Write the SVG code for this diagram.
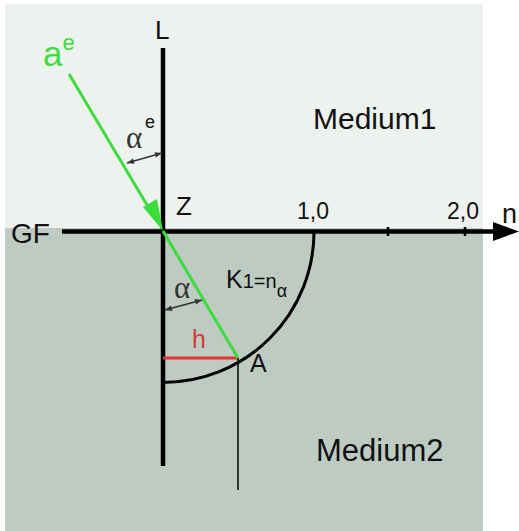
<svg xmlns="http://www.w3.org/2000/svg" width="519" height="531" viewBox="0 0 519 531">
<defs>
<style>
.t{font-family:"Liberation Sans",Arial,sans-serif;fill:#111}
.g{font-family:"Liberation Serif","Times New Roman",serif;fill:#333}
.ax{stroke:#000;fill:none}
</style>
<marker id="ka" viewBox="0 0 10 10" refX="10" refY="5" markerWidth="9" markerHeight="7" markerUnits="userSpaceOnUse" orient="auto-start-reverse">
<path d="M0,1 L10,5 L0,9 z" fill="#333"/>
</marker>
</defs>
<g id="background">
<rect x="5" y="4" width="478" height="224" fill="#eef2ee"/>
<rect x="5" y="228" width="478" height="303" fill="#bdcbc3"/>
</g>
<g id="connectors">
<line class="ax" x1="163" y1="48" x2="163" y2="466" stroke-width="4.5"/>
<line class="ax" x1="62" y1="231.5" x2="495" y2="231.5" stroke-width="4.5"/>
<path d="M493,222 L519,231.5 L493,241 z" fill="#000"/>
<line class="ax" x1="388" y1="227" x2="388" y2="236" stroke-width="2.5"/>
<line class="ax" x1="465" y1="227" x2="465" y2="236" stroke-width="2.5"/>
<path class="ax" d="M314,231.5 A151,151 0 0 1 163,382.5" stroke-width="3"/>
<line x1="163" y1="358" x2="238" y2="358" stroke="#e03535" stroke-width="3"/>
<line class="ax" x1="238" y1="358" x2="238" y2="490" stroke-width="1.5"/>
<line x1="69" y1="74" x2="150" y2="210" stroke="#3ddc3d" stroke-width="3"/>
<path d="M163,231 L143,207 L157,199 z" fill="#3ddc3d"/>
<line x1="163" y1="231" x2="238" y2="358" stroke="#3ddc3d" stroke-width="3"/>
<line x1="127" y1="163" x2="162" y2="153" stroke="#333" stroke-width="1.5" marker-start="url(#ka)" marker-end="url(#ka)"/>
<line x1="165" y1="310" x2="202" y2="300" stroke="#333" stroke-width="1.5" marker-start="url(#ka)" marker-end="url(#ka)"/>
</g>
<g id="labels">
<text class="t" x="155" y="39" font-size="26">L</text>
<text x="43" y="66" font-family="Liberation Sans,Arial,sans-serif" font-size="35" fill="#3ddc3d">a<tspan font-size="22" dy="-16">e</tspan></text>
<text class="g" x="126" y="148" font-size="31">α</text>
<text class="t" x="145" y="128" font-size="18" fill="#333">e</text>
<text class="t" x="176" y="215" font-size="26">Z</text>
<text class="t" x="11" y="243" font-size="28">GF</text>
<text class="t" x="297" y="219" font-size="23">1,0</text>
<text class="t" x="447" y="219" font-size="23">2,0</text>
<text class="t" x="502" y="223" font-size="27">n</text>
<text class="t" x="313" y="129" font-size="30">Medium1</text>
<text class="t" x="316" y="461" font-size="31">Medium2</text>
<text class="g" x="174" y="298" font-size="31">α</text>
<text class="t" x="226" y="288" font-size="25">K<tspan font-size="20">1=n</tspan><tspan font-size="18" dy="9">α</tspan></text>
<text x="192" y="348" font-family="Liberation Sans,Arial,sans-serif" font-size="25" fill="#d93a3a">h</text>
<text class="t" x="250" y="372" font-size="25">A</text>
</g>
</svg>
